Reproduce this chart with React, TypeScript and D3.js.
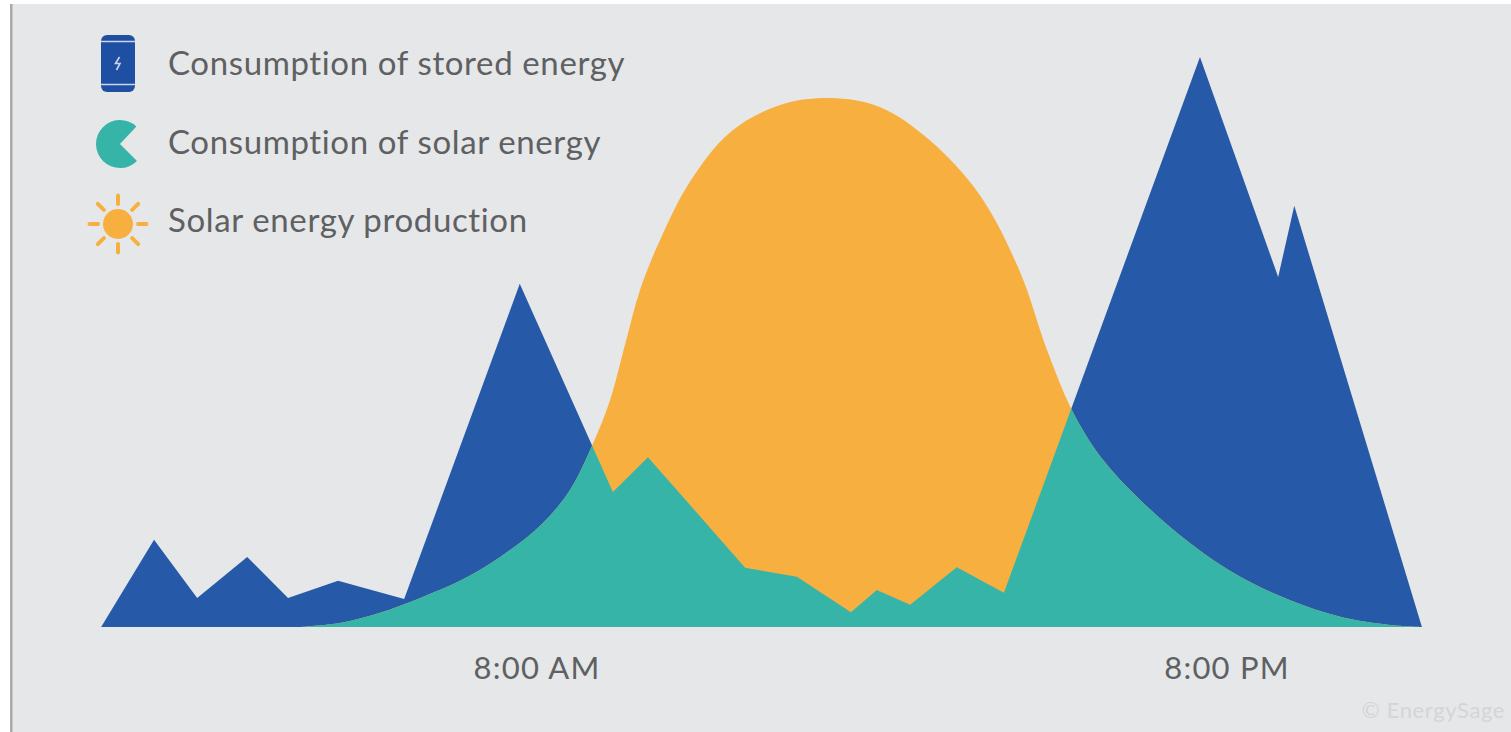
import React from "react";
import * as d3 from "d3";

const WIDTH = 1511;
const HEIGHT = 732;

// Household load over the day (hour of day, kW)
const consumptionHours = [0.42, 1.34, 2.09, 2.96, 3.67, 4.54, 5.69, 7.7, 9.32, 9.93, 11.62, 12.52, 13.46, 13.91, 14.49, 15.3, 16.12, 19.53, 20.89, 21.17, 23.39];
const consumptionValues = [0, 1.53, 0.51, 1.23, 0.51, 0.81, 0.49, 6.02, 2.37, 2.98, 1.04, 0.88, 0.26, 0.65, 0.39, 1.05, 0.6, 10, 6.14, 7.39, 0];

// Solar output over the day (hour of day, kW)
const solarHours = [3.88, 4.57, 5.27, 5.97, 6.66, 7.36, 8.05, 8.57, 8.96, 9.27, 9.53, 9.79, 10.14, 10.66, 11.36, 12.23, 13.1, 13.97, 14.83, 15.7, 16.4, 16.87, 17.3, 17.79, 18.49, 19.36, 20.23, 21.1, 21.97, 22.84, 23.39];
const solarValues = [0, 0.07, 0.25, 0.51, 0.81, 1.23, 1.77, 2.4, 3.19, 3.98, 4.95, 5.91, 6.79, 7.81, 8.68, 9.16, 9.28, 9.12, 8.54, 7.58, 6.23, 4.86, 3.81, 3.0, 2.23, 1.47, 0.88, 0.47, 0.18, 0.035, 0];

const tickHours = [8, 20];
const tickLabels = ["8:00 AM", "8:00 PM"];
const legendLabels = ["Consumption of stored energy", "Consumption of solar energy", "Solar energy production"];

const COLORS = {
  page: "#ffffff",
  panel: "#e6e7e9",
  edge: "#a9aaac",
  stored: "#265aa9",
  storedIcon: "#1f4fa3",
  teal: "#37b4a8",
  solar: "#f7b03f",
  text: "#5e6062",
  faint: "#d4d5d7",
};

const FONT = "Lato, 'Open Sans', sans-serif";

const x = d3.scaleLinear().domain([8, 20]).range([537, 1227]);
const y = d3.scaleLinear().domain([0, 10]).range([627, 57]);

type Pt = [number, number];
const consumption: Pt[] = consumptionHours.map((h, i) => [h, consumptionValues[i]]);
const solar: Pt[] = solarHours.map((h, i) => [h, solarValues[i]]);

const consumptionArea = d3.area<Pt>().x((d) => x(d[0])).y0(y(0)).y1((d) => y(d[1]));
const solarArea = d3
  .area<Pt>()
  .x((d) => x(d[0]))
  .y0(y(0))
  .y1((d) => y(d[1]))
  .curve(d3.curveCatmullRom.alpha(0.5));

const pacman = d3.arc()({
  innerRadius: 0,
  outerRadius: 24,
  startAngle: (135 * Math.PI) / 180,
  endAngle: (403 * Math.PI) / 180,
}) as string;

const sunRays = d3.range(8).map((i) => (i * Math.PI) / 4);

function BatteryIcon() {
  return (
    <g transform="translate(101,35)">
      <rect width={34} height={57} rx={6} fill={COLORS.storedIcon} />
      <path d="M0 6.5H34M0 49.5H34" stroke="#c9d5ea" strokeWidth={1.4} fill="none" />
      <path d="M18.5 22L14.5 28.5H19L15.5 35" stroke="#c9d5ea" strokeWidth={1.6} fill="none" />
    </g>
  );
}

function SolarIcon() {
  return (
    <g transform="translate(118,224)">
      <circle r={15} fill={COLORS.solar} />
      {sunRays.map((a) => (
        <line
          key={a}
          x1={Math.cos(a) * 20}
          y1={Math.sin(a) * 20}
          x2={Math.cos(a) * 28.5}
          y2={Math.sin(a) * 28.5}
          stroke={COLORS.solar}
          strokeWidth={4}
          strokeLinecap="round"
        />
      ))}
    </g>
  );
}

export default function App() {
  return (
    <svg
      width={WIDTH}
      height={HEIGHT}
      viewBox={`0 0 ${WIDTH} ${HEIGHT}`}
      style={{ position: "absolute", left: 0, top: 0, display: "block" }}
      fontFamily={FONT}
    >
      <rect width={WIDTH} height={HEIGHT} fill={COLORS.page} />
      <rect x={10} y={4} width={WIDTH - 10} height={HEIGHT - 4} fill={COLORS.panel} />
      <rect x={10} y={4} width={2.5} height={HEIGHT - 4} fill={COLORS.edge} />

      <defs>
        <clipPath id="consumption-clip">
          <path d={consumptionArea(consumption) as string} />
        </clipPath>
      </defs>

      <path d={consumptionArea(consumption) as string} fill={COLORS.stored} />
      <path d={solarArea(solar) as string} fill={COLORS.solar} />
      {/* Load met directly by solar: the overlap of both areas */}
      <path d={solarArea(solar) as string} fill={COLORS.teal} clipPath="url(#consumption-clip)" />

      {tickHours.map((h, i) => (
        <text key={h} x={x(h)} y={679} textAnchor="middle" fontSize={31} letterSpacing={1.2} fill={COLORS.text}>
          {tickLabels[i]}
        </text>
      ))}

      <BatteryIcon />
      <path d={pacman} transform="translate(120,144)" fill={COLORS.teal} />
      <SolarIcon />

      {legendLabels.map((label, i) => (
        <text key={label} x={168} y={[75, 154, 232][i]} fontSize={33} letterSpacing={0.63} fill={COLORS.text}>
          {label}
        </text>
      ))}

      <text x={1505} y={718} textAnchor="end" fontSize={22} letterSpacing={0.6} fill={COLORS.faint}>
        © EnergySage
      </text>
    </svg>
  );
}
